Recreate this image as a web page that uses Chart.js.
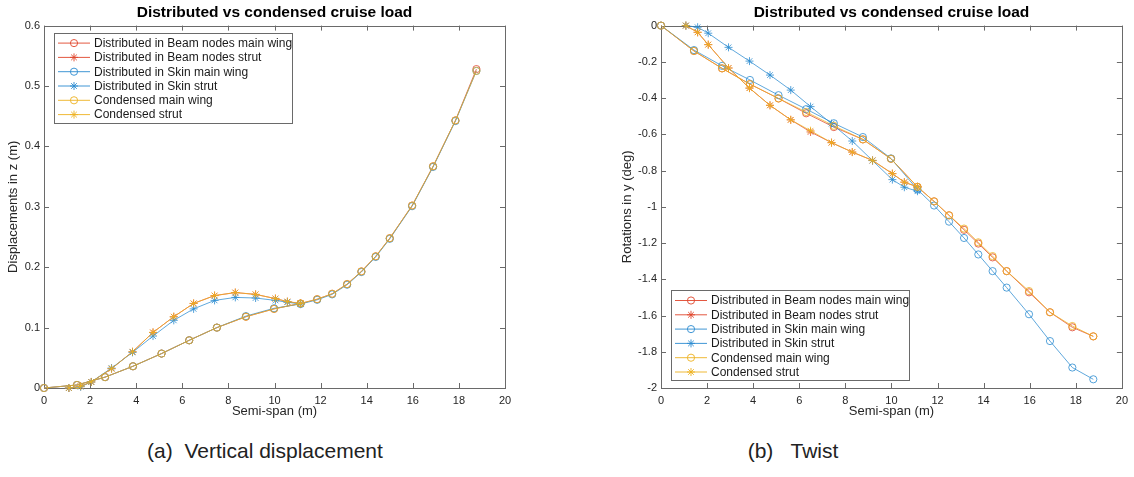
<!DOCTYPE html>
<html>
<head>
<meta charset="utf-8">
<script src="https://cdn.jsdelivr.net/npm/chart.js@4.4.1/dist/chart.umd.min.js"></script>
<style>
  body { margin: 0; background: #fff; width: 1134px; height: 477px; overflow: hidden; position: relative; }
  canvas { position: absolute; top: 0; }
  #cLeft { left: 0; }
  #cRight { left: 600px; }
  .cap { position: absolute; top: 439px; font: 21px "Liberation Sans", Arial, sans-serif; color: #222; text-align: center; white-space: pre; }
</style>
</head>
<body>
<canvas id="cLeft" width="560" height="430"></canvas>
<canvas id="cRight" width="534" height="430"></canvas>
<div class="cap" style="left:0;width:530px;">(a)  Vertical displacement</div>
<div class="cap" style="left:593px;width:400px;">(b)   Twist</div>
<script>
// node positions along the semi-span (m)
const wingX = [0, 1.43, 2.65, 3.86, 5.1, 6.3, 7.5, 8.76, 9.98, 11.13, 11.85, 12.5, 13.15, 13.77, 14.39, 15.0, 15.97, 16.88, 17.85, 18.76];
const strutX = [1.08, 1.59, 2.05, 2.93, 3.84, 4.73, 5.63, 6.49, 7.4, 8.3, 9.18, 10.04, 10.56, 11.13];

// (a) vertical displacement (m)
const dzBeamWing  = [0, 0.005, 0.018, 0.036, 0.057, 0.079, 0.1, 0.118, 0.131, 0.14, 0.147, 0.156, 0.172, 0.193, 0.218, 0.248, 0.302, 0.367, 0.443, 0.528];
const dzBeamStrut = [0, 0.003, 0.01, 0.032, 0.06, 0.092, 0.118, 0.14, 0.153, 0.158, 0.155, 0.148, 0.143, 0.14];
const dzSkinWing  = [0, 0.005, 0.018, 0.036, 0.057, 0.079, 0.1, 0.119, 0.132, 0.139, 0.146, 0.155, 0.171, 0.192, 0.217, 0.247, 0.301, 0.366, 0.442, 0.525];
const dzSkinStrut = [0, 0.002, 0.01, 0.033, 0.059, 0.086, 0.112, 0.131, 0.145, 0.15, 0.149, 0.145, 0.142, 0.139];
const dzCondWing  = [0, 0.005, 0.018, 0.036, 0.057, 0.079, 0.1, 0.118, 0.131, 0.14, 0.147, 0.156, 0.172, 0.193, 0.218, 0.248, 0.302, 0.367, 0.443, 0.525];
const dzCondStrut = [0, 0.003, 0.01, 0.032, 0.06, 0.092, 0.118, 0.14, 0.153, 0.158, 0.155, 0.148, 0.143, 0.14];

// (b) twist (deg)
const ryBeamWing  = [0, -0.14, -0.236, -0.323, -0.402, -0.484, -0.56, -0.628, -0.735, -0.89, -0.97, -1.047, -1.127, -1.203, -1.279, -1.355, -1.472, -1.582, -1.665, -1.715];
const ryBeamStrut = [0, -0.037, -0.105, -0.234, -0.345, -0.44, -0.52, -0.587, -0.646, -0.698, -0.744, -0.817, -0.864, -0.89];
const rySkinWing  = [0, -0.135, -0.222, -0.3, -0.384, -0.461, -0.539, -0.615, -0.733, -0.905, -0.993, -1.082, -1.172, -1.263, -1.355, -1.446, -1.593, -1.741, -1.887, -1.952];
const rySkinStrut = [0, -0.009, -0.042, -0.12, -0.196, -0.273, -0.356, -0.447, -0.541, -0.637, -0.745, -0.85, -0.892, -0.914];
const ryCondWing  = [0, -0.14, -0.236, -0.323, -0.402, -0.477, -0.553, -0.628, -0.735, -0.89, -0.97, -1.047, -1.12, -1.196, -1.272, -1.355, -1.465, -1.582, -1.658, -1.715];
const ryCondStrut = [0, -0.037, -0.105, -0.234, -0.345, -0.44, -0.52, -0.58, -0.646, -0.698, -0.744, -0.817, -0.864, -0.89];

const labels = ['Distributed in Beam nodes main wing', 'Distributed in Beam nodes strut',
  'Distributed in Skin main wing', 'Distributed in Skin strut', 'Condensed main wing', 'Condensed strut'];

const RED = '#e0452b', BLUE = '#2b8bd0', YEL = '#edb120';
const FONT = '"Liberation Sans", Arial, sans-serif';

function pts(xs, ys) { return xs.map((x, i) => ({ x: x, y: ys[i] })); }

function makeSets(series) {
  const colors = [RED, RED, BLUE, BLUE, YEL, YEL];
  const styles = ['circle', 'star', 'circle', 'star', 'circle', 'star'];
  return series.map((s, i) => ({
    label: labels[i],
    data: pts(i % 2 === 0 ? wingX : strutX, s),
    borderColor: colors[i],
    pointBorderColor: colors[i],
    backgroundColor: 'rgba(0,0,0,0)',
    pointStyle: styles[i],
    pointRadius: styles[i] === 'star' ? 4 : 3.6,
    pointBorderWidth: 0.8,
    borderWidth: 0.75,
    tension: 0,
    clip: false,
    order: 5 - i   // last series on top, like matlab
  }));
}

// box with inward ticks on all four sides
const framePlugin = {
  id: 'frame',
  beforeDatasetsDraw(chart) {
    const { ctx, chartArea: a, scales } = chart;
    ctx.save();
    ctx.strokeStyle = '#6a6a6a';
    ctx.lineWidth = 1;
    ctx.strokeRect(Math.round(a.left) + 0.5, Math.round(a.top) + 0.5, Math.round(a.right - a.left), Math.round(a.bottom - a.top));
    ctx.beginPath();
    scales.x.ticks.forEach(t => {
      const px = Math.round(scales.x.getPixelForValue(t.value)) + 0.5;
      ctx.moveTo(px, a.bottom); ctx.lineTo(px, a.bottom - 5);
      ctx.moveTo(px, a.top); ctx.lineTo(px, a.top + 5);
    });
    scales.y.ticks.forEach(t => {
      const py = Math.round(scales.y.getPixelForValue(t.value)) + 0.5;
      ctx.moveTo(a.left, py); ctx.lineTo(a.left + 5, py);
      ctx.moveTo(a.right, py); ctx.lineTo(a.right - 5, py);
    });
    ctx.stroke();
    ctx.restore();
  }
};

function drawMarker(ctx, style, x, y, r) {
  ctx.beginPath();
  if (style === 'circle') {
    ctx.arc(x, y, r, 0, Math.PI * 2);
  } else {
    for (let k = 0; k < 4; k++) {
      const ang = k * Math.PI / 4;
      ctx.moveTo(x - Math.cos(ang) * r, y - Math.sin(ang) * r);
      ctx.lineTo(x + Math.cos(ang) * r, y + Math.sin(ang) * r);
    }
  }
  ctx.stroke();
}

const legendPlugin = {
  id: 'boxLegend',
  afterDraw(chart, args, opts) {
    const { ctx, chartArea: a } = chart;
    const w = 238, h = 90;
    const bx = a.left + 10;
    const by = opts.where === 'top' ? a.top + 7 : a.bottom - 8 - h;
    ctx.save();
    ctx.fillStyle = '#fff';
    ctx.fillRect(bx, by, w, h);
    ctx.strokeStyle = '#6a6a6a';
    ctx.lineWidth = 1;
    ctx.strokeRect(Math.round(bx) + 0.5, Math.round(by) + 0.5, w, h);
    ctx.font = '12px ' + FONT;
    ctx.textBaseline = 'middle';
    chart.data.datasets.forEach((ds, i) => {
      const ry = by + 10.5 + i * 14.3;
      ctx.strokeStyle = ds.borderColor;
      ctx.lineWidth = 0.9;
      ctx.beginPath();
      ctx.moveTo(bx + 4, ry); ctx.lineTo(bx + 36, ry);
      ctx.stroke();
      drawMarker(ctx, ds.pointStyle, bx + 20, ry, ds.pointStyle === 'star' ? 4 : 3.6);
      ctx.fillStyle = '#1a1a1a';
      ctx.fillText(ds.label, bx + 40, ry + 0.5);
    });
    ctx.restore();
  }
};

function fmt(v) { return String(Math.round(v * 10) / 10); }

function makeChart(id, series, yMin, yMax, yTitle, yWidth, yTitlePad, rightPad, legendWhere) {
  return new Chart(document.getElementById(id), {
    type: 'line',
    data: { datasets: makeSets(series) },
    plugins: [framePlugin, legendPlugin],
    options: {
      responsive: false,
      animation: false,
      events: [],
      layout: { padding: { left: 0, right: rightPad, top: 0, bottom: 0 } },
      plugins: {
        legend: { display: false },
        tooltip: { enabled: false },
        title: {
          display: true, text: 'Distributed vs condensed cruise load', fullSize: false,
          color: '#000', font: { family: FONT, size: 15.5, weight: 'bold' }, padding: { top: 3, bottom: 4 }
        },
        boxLegend: { where: legendWhere }
      },
      scales: {
        x: {
          type: 'linear', min: 0, max: 20,
          grid: { display: false, drawTicks: false },
          border: { display: false },
          ticks: { stepSize: 2, padding: 6, color: '#262626', font: { family: FONT, size: 11 }, callback: fmt },
          title: { display: true, text: 'Semi-span (m)', color: '#262626', font: { family: FONT, size: 13 }, padding: { top: 0, bottom: 11 } },
          afterFit(s) { s.height = 42; }
        },
        y: {
          type: 'linear', min: yMin, max: yMax,
          grid: { display: false, drawTicks: false },
          border: { display: false },
          ticks: { stepSize: yMax - yMin > 1 ? 0.2 : 0.1, padding: 4, color: '#262626', font: { family: FONT, size: 11 }, callback: fmt },
          title: { display: true, text: yTitle, color: '#262626', font: { family: FONT, size: 13 }, padding: { top: yTitlePad, bottom: 0 } },
          afterFit(s) { s.width = yWidth; }
        }
      }
    }
  });
}

makeChart('cLeft', [dzBeamWing, dzBeamStrut, dzSkinWing, dzSkinStrut, dzCondWing, dzCondStrut],
  0, 0.6, 'Displacements in z (m)', 44, 6, 55, 'top');
makeChart('cRight', [ryBeamWing, ryBeamStrut, rySkinWing, rySkinStrut, ryCondWing, ryCondStrut],
  -2, 0, 'Rotations in y (deg)', 61, 20, 12, 'bottom');
</script>
</body>
</html>
